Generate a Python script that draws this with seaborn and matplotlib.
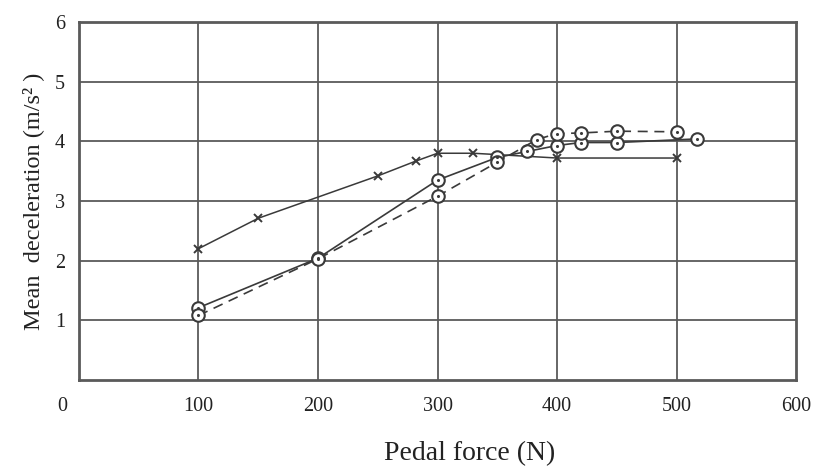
import numpy as np
import pandas as pd
import matplotlib
matplotlib.use("Agg")
import matplotlib.pyplot as plt
import seaborn as sns

# values
cross_force = [100, 150, 250, 282, 300, 330, 400, 500]
cross_decel = [2.20, 2.71, 3.42, 3.67, 3.80, 3.80, 3.72, 3.72]

solid_force = [100, 200, 300, 350, 375, 400, 420, 450, 517]
solid_decel = [1.21, 2.04, 3.35, 3.73, 3.83, 3.93, 3.98, 3.98, 4.04]

dashed_force = [100, 200, 300, 350, 383, 400, 420, 450, 500]
dashed_decel = [1.08, 2.03, 3.08, 3.65, 4.03, 4.13, 4.14, 4.17, 4.16]

x_ticks = [0, 100, 200, 300, 400, 500, 600]
y_ticks = [1, 2, 3, 4, 5, 6]

sns.set_theme(style="white")
plt.rcParams["font.family"] = ["Liberation Serif", "DejaVu Serif"]

ink = "#3a3a3a"
grid_c = "#5a5a5a"
txt = "#222222"

fig = plt.figure(figsize=(8.14, 4.69), dpi=100)
ax = fig.add_axes([0.097, 0.190, 0.881, 0.763])

cross = pd.DataFrame({"force": cross_force, "decel": cross_decel})
solid = pd.DataFrame({"force": solid_force, "decel": solid_decel})
dashed = pd.DataFrame({"force": dashed_force, "decel": dashed_decel})

sns.lineplot(data=cross, x="force", y="decel", ax=ax, color=ink, lw=1.1,
             marker="x", markersize=6, mew=1.4, mec=ink, zorder=4)
sns.lineplot(data=solid, x="force", y="decel", ax=ax, color=ink, lw=1.2,
             marker="o", markersize=9, mfc="white", mec=ink, mew=1.5, zorder=5)
sns.lineplot(data=dashed, x="force", y="decel", ax=ax, color=ink, lw=1.2,
             dashes=False, linestyle=(0, (6, 4)),
             marker="o", markersize=9, mfc="white", mec=ink, mew=1.5, zorder=5)
# centre dots of the circle markers
for d in (solid, dashed):
    sns.scatterplot(data=d, x="force", y="decel", ax=ax, color=ink, s=5,
                    linewidth=0, zorder=6)

ax.set_xlim(0, 600)
ax.set_ylim(0, 6)
for v in x_ticks[1:-1]:
    ax.axvline(v, color=grid_c, lw=1.3, zorder=1)
for v in y_ticks[:-1]:
    ax.axhline(v, color=grid_c, lw=1.3, zorder=1)

for s in ax.spines.values():
    s.set_color(grid_c)
    s.set_linewidth(2.0)

ax.set_xticks(x_ticks)
ax.set_xticklabels([""] + [str(t) for t in x_ticks[1:]])
ax.set_yticks(y_ticks)
ax.set_yticklabels([str(t) for t in y_ticks])
ax.tick_params(axis="both", length=0, labelsize=14.5, colors=txt)
ax.tick_params(axis="x", pad=12)
ax.tick_params(axis="y", pad=10)
# the corner "0" sits a little left of the axis origin in the original
ax.annotate("0", xy=(0, 0), xycoords="data", xytext=(-12, -12),
            textcoords="offset points", ha="center", va="top",
            fontsize=14.5, color=txt, annotation_clip=False)

ax.set_xlabel("Pedal force (N)", fontsize=20, labelpad=16, color=txt)
ax.xaxis.set_label_coords(0.545, -0.17)
ax.set_ylabel("Mean  deceleration (m/s² )", fontsize=17.5, labelpad=8,
              color=txt)

fig.savefig("out.png", dpi=100)
